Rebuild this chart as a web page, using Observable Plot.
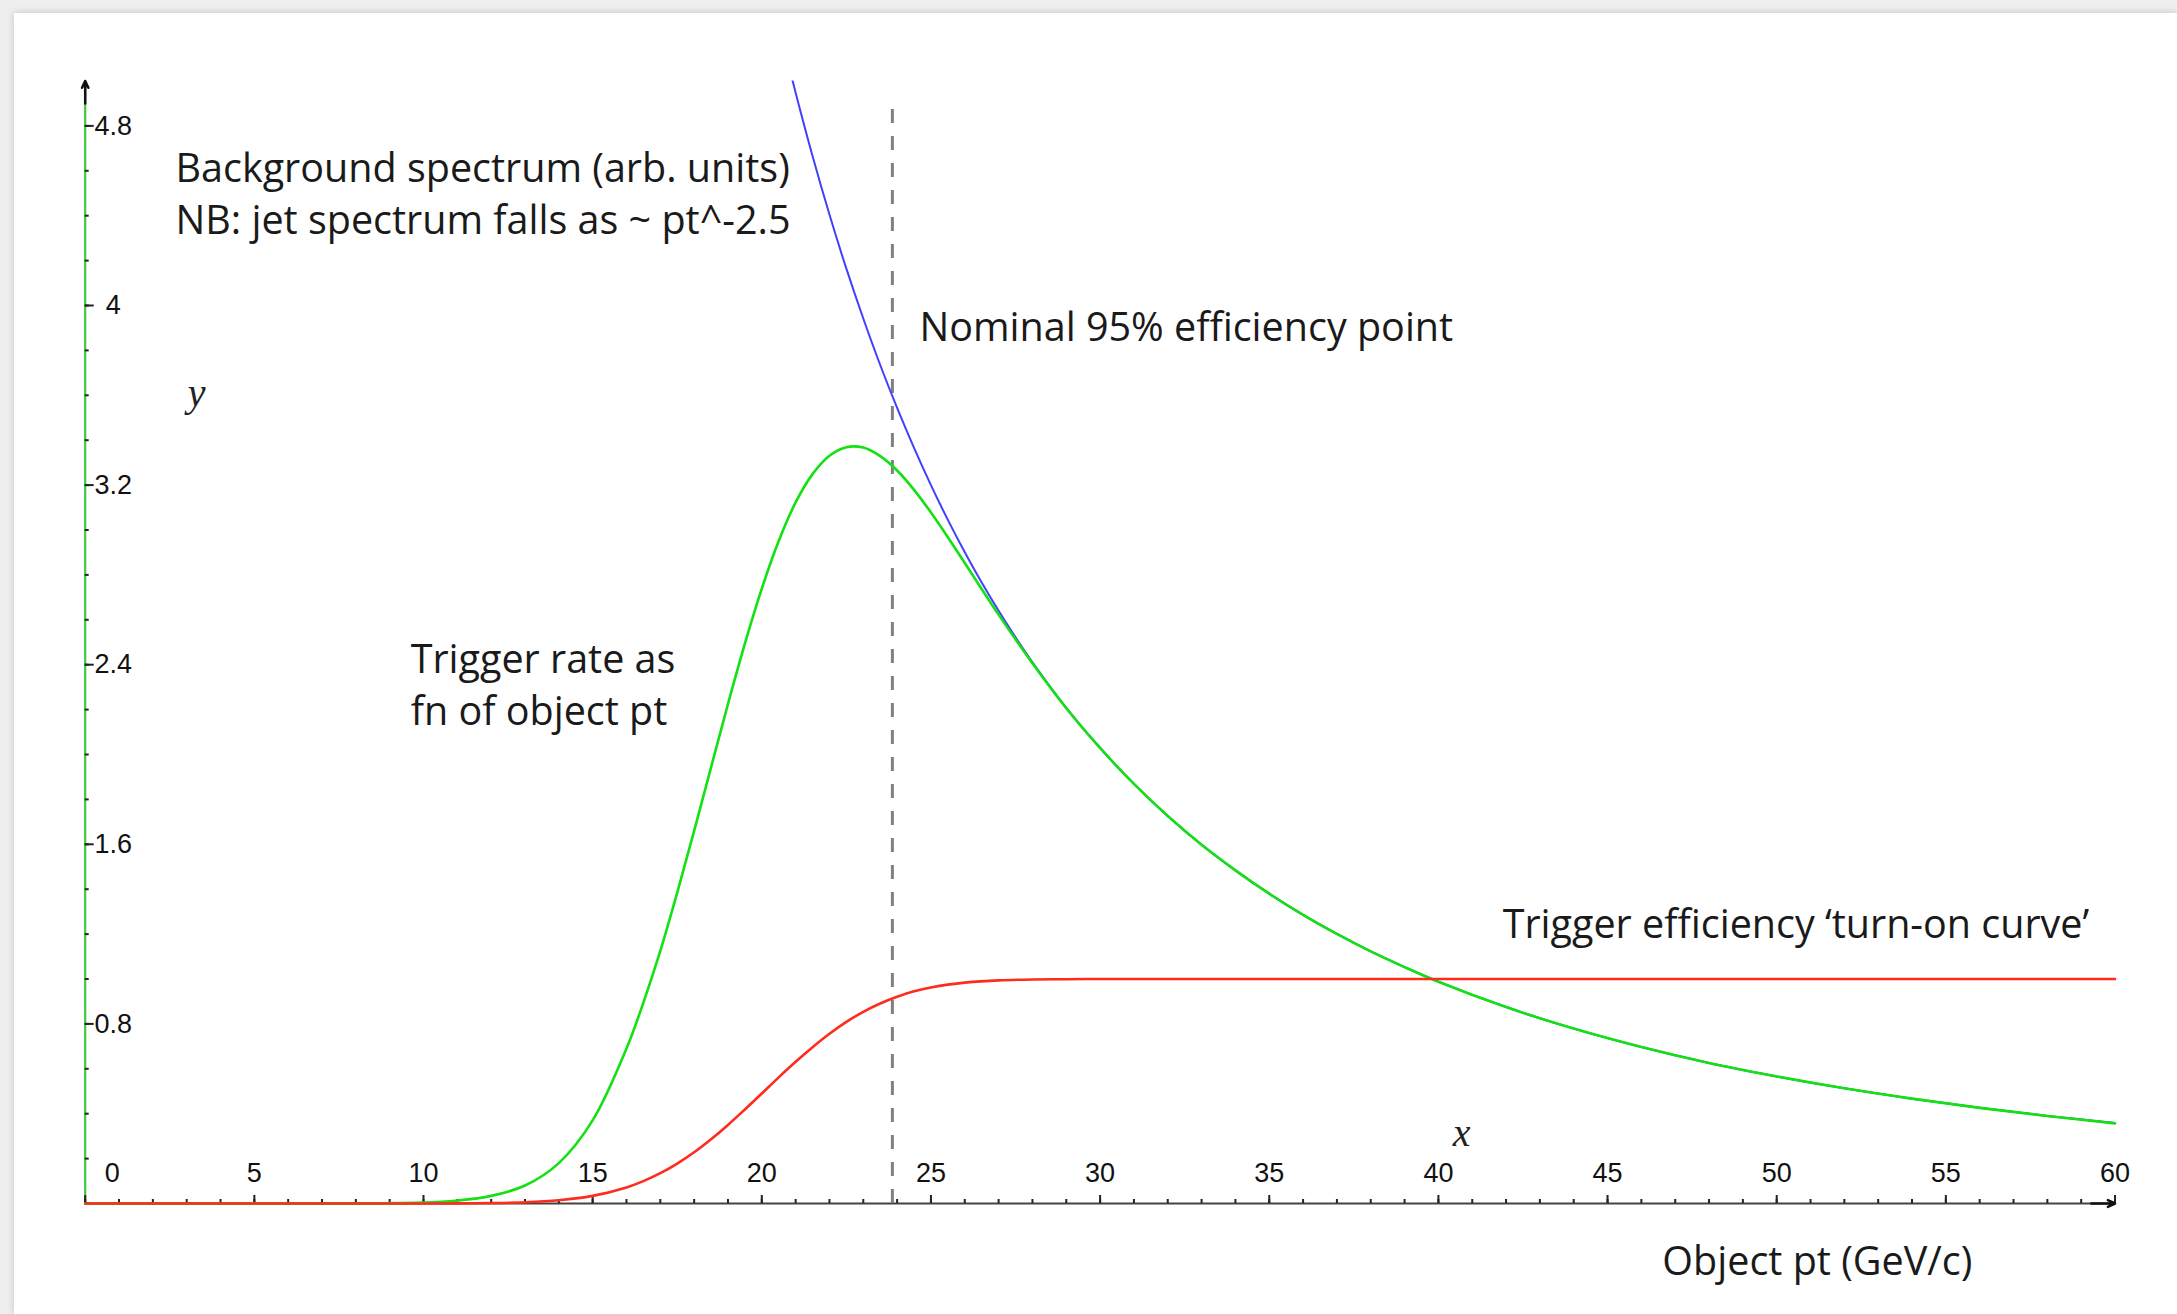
<!DOCTYPE html>
<html>
<head>
<meta charset="utf-8">
<script src="https://cdn.jsdelivr.net/npm/d3@7"></script>
<script src="https://cdn.jsdelivr.net/npm/@observablehq/plot@0.6"></script>
<style>
  html, body { margin: 0; padding: 0; background: #eeeeee; overflow: hidden; width: 2177px; height: 1314px; }
  #card { position: absolute; left: 14px; top: 13px; width: 2163px; height: 1301px; background: #ffffff;
          box-shadow: 0 0 7px rgba(0,0,0,0.18); }
  #card svg { display: block; }
</style>
</head>
<body>
<div id="card"></div>
<script>
// ---- data ----
// object pt grid (GeV/c) for the efficiency and trigger-rate curves
const pt = [0, 5, 10, 11, 12, 13, 14, 15, 16, 16.5, 17, 17.5, 18, 18.5, 19, 19.5, 20, 20.5, 21, 21.5, 22, 22.5, 23, 23.5, 24, 24.5, 25, 25.5, 26, 27, 28, 29, 30, 31, 32, 33, 34, 35, 36, 37, 38, 39, 40, 42, 44, 46, 48, 50, 52, 54, 56, 58, 60];
// trigger efficiency 'turn-on curve' (red)
const efficiency = [0, 0, 0, 0.0006, 0.002, 0.0055, 0.0145, 0.034, 0.0716, 0.0996, 0.135, 0.178, 0.228, 0.286, 0.350, 0.419, 0.490, 0.562, 0.631, 0.696, 0.756, 0.809, 0.854, 0.891, 0.921, 0.945, 0.962, 0.975, 0.984, 0.994, 0.998, 0.999, 1, 1, 1, 1, 1, 1, 1, 1, 1, 1, 1, 1, 1, 1, 1, 1, 1, 1, 1, 1, 1];
// trigger rate as fn of object pt (green)
const triggerRate = [0, 0, 0.004, 0.013, 0.034, 0.08, 0.18, 0.37, 0.69, 0.895, 1.125, 1.385, 1.66, 1.943, 2.225, 2.494, 2.739, 2.951, 3.123, 3.249, 3.331, 3.369, 3.367, 3.329, 3.265, 3.179, 3.078, 2.968, 2.853, 2.623, 2.406, 2.206, 2.029, 1.869, 1.726, 1.598, 1.484, 1.380, 1.286, 1.201, 1.123, 1.053, 0.988, 0.875, 0.779, 0.697, 0.626, 0.566, 0.513, 0.467, 0.426, 0.390, 0.357];
// background spectrum (blue)
const ptBackground = [20.8, 21, 21.5, 22, 22.5, 23, 23.5, 24, 24.5, 25, 25.5, 26, 26.5, 27, 27.5, 28, 29, 30, 31, 32, 33, 34, 35, 36, 37, 38, 39, 40, 42, 44, 46, 48, 50, 52, 54, 56, 58, 60];
const background = [5.068, 4.948, 4.666, 4.405, 4.164, 3.942, 3.735, 3.544, 3.366, 3.200, 3.045, 2.901, 2.766, 2.640, 2.522, 2.411, 2.208, 2.029, 1.869, 1.726, 1.598, 1.484, 1.380, 1.286, 1.201, 1.123, 1.053, 0.988, 0.875, 0.779, 0.697, 0.626, 0.566, 0.513, 0.467, 0.426, 0.390, 0.359];
// nominal 95% efficiency point
const nominalPoint = [23.86];
// ticks
const xTickValues = [0, 5, 10, 15, 20, 25, 30, 35, 40, 45, 50, 55, 60];
const xTickLabels = ["0", "5", "10", "15", "20", "25", "30", "35", "40", "45", "50", "55", "60"];
const yTickValues = [0.8, 1.6, 2.4, 3.2, 4, 4.8];
const yTickLabels = ["0.8", "1.6", "2.4", "3.2", "4", "4.8"];
const xMinor = d3.range(0, 61, 1);
const yMinor = d3.range(0.2, 5, 0.2);
// annotation texts
const labelBackground = "Background spectrum (arb. units)\nNB: jet spectrum falls as ~ pt^-2.5";
const labelNominal = "Nominal 95% efficiency point";
const labelRate = "Trigger rate as\nfn of object pt";
const labelEfficiency = "Trigger efficiency \u2018turn-on curve\u2019";
const labelXTitle = "Object pt (GeV/c)";

// ---- build tables ----
const effData = pt.map((x, i) => ({x, y: efficiency[i]}));
const rateData = pt.map((x, i) => ({x, y: triggerRate[i]}));
const bgData = ptBackground.map((x, i) => ({x, y: background[i]}));
const xTicks = xTickValues.map((v, i) => ({v, label: xTickLabels[i]}));
const yTicks = yTickValues.map((v, i) => ({v, label: yTickLabels[i]}));

const annFont = "'Open Sans', 'Noto Sans', sans-serif";
const tickFont = "'Liberation Sans', Arial, sans-serif";
const serifFont = "'Liberation Serif', 'Times New Roman', serif";
const GREEN = "#14e014", RED = "#ff2b1c", BLUE = "#4040ff";
const annStyle = {textAnchor: "start", lineAnchor: "middle", lineHeight: 1.33, fontFamily: annFont, fontSize: 39.5, fill: "#1a1a1a"};

const chart = Plot.plot({
  width: 2163,
  height: 1301,
  marginLeft: 70.7,
  marginRight: 62.5,
  marginTop: 67.5,
  marginBottom: 111,
  x: {domain: [0, 60], axis: null},
  y: {domain: [0, 5], axis: null},
  style: {background: "transparent", overflow: "visible"},
  marks: [
    // axes lines
    Plot.ruleY([0], {x1: 0, x2: 60, stroke: "#444", strokeWidth: 2}),
    Plot.ruleX([0], {y1: 0, y2: 5, stroke: "#3ccc3c", strokeWidth: 2.2}),
    // ticks (pointing inward)
    Plot.axisX(xMinor, {anchor: "bottom", tickSize: -4, tickFormat: () => "", label: null, stroke: "#222", strokeWidth: 2}),
    Plot.axisX(xTickValues, {anchor: "bottom", tickSize: -8, tickFormat: () => "", label: null, stroke: "#222", strokeWidth: 2}),
    Plot.axisY(yMinor, {anchor: "left", tickSize: -4, tickFormat: () => "", label: null, stroke: "#222", strokeWidth: 2}),
    Plot.axisY(yTickValues, {anchor: "left", tickSize: -9, tickFormat: () => "", label: null, stroke: "#222", strokeWidth: 2}),
    // tick labels
    Plot.text(xTicks.filter(d => d.v !== 0), {x: "v", y: 0, text: "label", dy: -30, fontFamily: tickFont, fontSize: 27, fill: "#111", lineAnchor: "middle"}),
    Plot.text(xTicks.filter(d => d.v === 0), {x: "v", y: 0, text: "label", dy: -30, dx: 27, fontFamily: tickFont, fontSize: 27, fill: "#111", lineAnchor: "middle"}),
    Plot.text(yTicks, {x: 0, y: "v", text: "label", dx: 28, fontFamily: tickFont, fontSize: 27, fill: "#111", textAnchor: "middle", lineAnchor: "middle"}),
    // dashed nominal 95% line
    Plot.ruleX(nominalPoint, {y1: 0, y2: 4.93, stroke: "#808080", strokeWidth: 3, strokeDasharray: "14,13"}),
    // curves
    Plot.line(bgData, {x: "x", y: "y", stroke: BLUE, strokeWidth: 2, curve: "catmull-rom", clip: true}),
    Plot.line(rateData, {x: "x", y: "y", stroke: GREEN, strokeWidth: 2.6, curve: "catmull-rom"}),
    Plot.line(effData, {x: "x", y: "y", stroke: RED, strokeWidth: 2.6, curve: "catmull-rom"}),
    // axis arrows
    Plot.arrow([0], {x1: 59.3, x2: 60, y1: 0, y2: 0, stroke: "#111", strokeWidth: 2.5, headLength: 22, headAngle: 50}),
    Plot.arrow([0], {x1: 0, x2: 0, y1: 4.9, y2: 5, stroke: "#111", strokeWidth: 2.5, headLength: 22, headAngle: 50}),
    // annotations
    Plot.text([labelBackground], {x: 2.67, y: 4.51, text: d => d, ...annStyle}),
    Plot.text([labelNominal], {x: 24.66, y: 3.918, text: d => d, ...annStyle}),
    Plot.text([labelRate], {x: 9.62, y: 2.322, text: d => d, ...annStyle}),
    Plot.text([labelEfficiency], {x: 41.9, y: 1.257, text: d => d, ...annStyle}),
    Plot.text([labelXTitle], {x: 46.62, y: -0.243, text: d => d, ...annStyle}),
    Plot.text(["y"], {x: 3.29, y: 3.608, text: d => d, fontFamily: serifFont, fontStyle: "italic", fontSize: 40, fill: "#222", lineAnchor: "middle"}),
    Plot.text(["x"], {x: 40.69, y: 0.312, text: d => d, fontFamily: serifFont, fontStyle: "italic", fontSize: 40, fill: "#222", lineAnchor: "middle"})
  ]
});
document.getElementById("card").appendChild(chart);
</script>
</body>
</html>
